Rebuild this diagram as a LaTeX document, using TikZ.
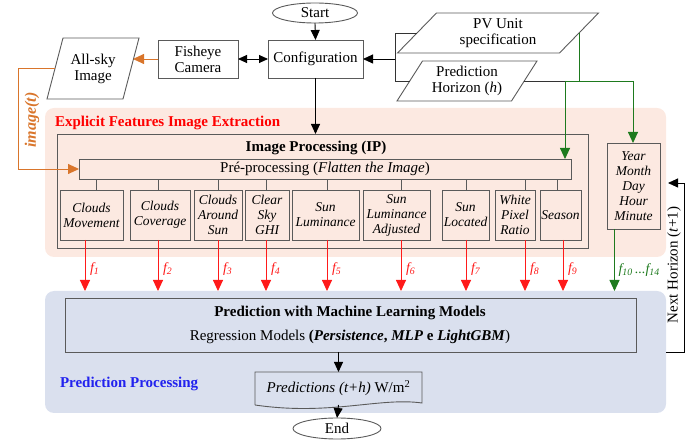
\documentclass[tikz,border=0pt]{standalone}
\usepackage{fontspec}
\setmainfont{Liberation Serif}
\usetikzlibrary{arrows.meta,shapes.geometric,calc}
\definecolor{pinkbg}{HTML}{FCE9E1}
\definecolor{bluebg}{HTML}{DAE0EE}
\definecolor{orng}{HTML}{D9752B}
\definecolor{grn}{HTML}{1E7A1E}
\definecolor{boxline}{HTML}{5A5A5A}
\definecolor{redf}{HTML}{FF1A1A}
\definecolor{bluet}{HTML}{2222EE}
\begin{document}
\begin{tikzpicture}[x=1pt,y=-1pt,
  every node/.style={inner sep=0pt,outer sep=0pt,align=center},
  bx/.style={draw=boxline,line width=0.9pt},
  main/.style={font=\fontsize{15}{16}\selectfont},
  bmain/.style={font=\fontsize{15}{16}\selectfont\bfseries},
  featf/.style={font=\fontsize{13.5}{15}\selectfont\itshape},
  feat/.style={bx,featf,minimum height=50,minimum width=#1},
  conn/.style={draw=boxline,line width=0.9pt},
  arr/.style={draw=black,line width=0.9pt,-{Triangle[length=10pt,width=9pt]}},
  redarr/.style={draw=redf,line width=0.9pt,-{Triangle[length=11pt,width=10pt]}},
  grnarr/.style={draw=grn,line width=0.9pt,-{Triangle[length=11pt,width=10pt]}},
  orngarr/.style={draw=orng,line width=0.9pt,-{Triangle[length=11pt,width=10pt]}},
  flab/.style={font=\fontsize{14}{16}\selectfont\itshape,anchor=west},
]
\useasboundingbox (0,0) rectangle (699,443);

% regions
\node[fill=pinkbg,rounded corners=9pt,minimum width=621,minimum height=149] (efie) at (355.5,182.5) {};
\node[fill=bluebg,rounded corners=9pt,minimum width=621,minimum height=122] (pp) at (355.5,352) {};
\node[bmain,text=red,anchor=west] (efietitle) at (55,123) {Explicit Features Image Extraction};
\node[bmain,text=bluet,anchor=west] (pptitle) at (60,384) {Prediction Processing};

% top
\node[ellipse,bx,minimum width=85,minimum height=20,main] (start) at (315,13) {Start};
\node[bx,minimum width=95,minimum height=38,main] (config) at (315.5,59) {Configuration};
\node[bx,minimum width=80,minimum height=38,main] (fish) at (198,59) {Fisheye\\Camera};
\node[minimum width=76,minimum height=61,main] (sky) at (93,68.5) {All-sky\\Image};
\draw[bx] ([xshift=-8]sky.south west) -- ([xshift=8]sky.north west) -- ([xshift=8]sky.north east) -- ([xshift=-8]sky.south east) -- cycle;
\node[minimum width=162,minimum height=40,main] (pv) at (498,33) {PV Unit\\specification};
\draw[bx] ([xshift=-19.5]pv.south west) -- ([xshift=19.5]pv.north west) -- ([xshift=19.5]pv.north east) -- ([xshift=-19.5]pv.south east) -- cycle;
\node[minimum width=114.5,minimum height=40,main] (ph) at (467,81) {Prediction\\Horizon (\textit{h})};
\draw[bx] ([xshift=-12.75]ph.south west) -- ([xshift=12.75]ph.north west) -- ([xshift=12.75]ph.north east) -- ([xshift=-12.75]ph.south east) -- cycle;

% image processing
\node[bx,minimum width=531,minimum height=114] (ip) at (322.5,191) {};
\node[bmain] (iptitle) at (316,148) {Image Processing (IP)};
\node[bx,minimum width=492,minimum height=20,main] (pre) at (325,169) {Pré-processing (\textit{Flatten the Image})};

\node[feat=63] (cm) at (91.5,215) {Clouds\\Movement};
\node[feat=60] (cc) at (160,215) {Clouds\\Coverage};
\node[feat=48] (cas) at (218,215) {Clouds\\Around\\Sun};
\node[feat=44] (csg) at (267,215) {Clear\\Sky\\GHI};
\node[feat=67] (sl) at (325.5,215) {Sun\\Luminance};
\node[feat=67] (sla) at (396.5,215) {Sun\\Luminance\\Adjusted};
\node[feat=47] (sloc) at (465.5,215) {Sun\\Located};
\node[feat=40] (wpr) at (515,215) {White\\Pixel\\Ratio};
\node[feat=41] (sea) at (560.5,215) {Season};

\node[bx,featf,minimum width=53,minimum height=86] (year) at (633.5,186) {Year\\Month\\Day\\Hour\\Minute};

% connectors pre -> features
\foreach \n/\s in {cm/4.5,cc/-2,cas/0,csg/-1,sl/1.5,sla/4.5,sloc/0.5,wpr/10,sea/-3.5}{
  \draw[conn] ([xshift=\s]\n.north) -- ([xshift=\s]\n.north |- pre.south);
}

% red arrows
\draw[redarr] ([xshift=-6.5]cm.south) -- ([xshift=-6.5]cm.south |- pp.north) node[flab,text=redf,pos=0.57,xshift=5] (l1) {f\textsubscript{\textit{1}}};
\draw[redarr] ([xshift=-2]cc.south) -- ([xshift=-2]cc.south |- pp.north) node[flab,text=redf,pos=0.57,xshift=5] (l2) {f\textsubscript{\textit{2}}};
\draw[redarr] (cas.south) -- (cas.south |- pp.north) node[flab,text=redf,pos=0.57,xshift=5] (l3) {f\textsubscript{\textit{3}}};
\draw[redarr] ([xshift=-1]csg.south) -- ([xshift=-1]csg.south |- pp.north) node[flab,text=redf,pos=0.57,xshift=5] (l4) {f\textsubscript{\textit{4}}};
\draw[redarr] ([xshift=1.5]sl.south) -- ([xshift=1.5]sl.south |- pp.north) node[flab,text=redf,pos=0.57,xshift=5] (l5) {f\textsubscript{\textit{5}}};
\draw[redarr] ([xshift=4.5]sla.south) -- ([xshift=4.5]sla.south |- pp.north) node[flab,text=redf,pos=0.57,xshift=5] (l6) {f\textsubscript{\textit{6}}};
\draw[redarr] ([xshift=0.5]sloc.south) -- ([xshift=0.5]sloc.south |- pp.north) node[flab,text=redf,pos=0.57,xshift=5] (l7) {f\textsubscript{\textit{7}}};
\draw[redarr] ([xshift=10]wpr.south) -- ([xshift=10]wpr.south |- pp.north) node[flab,text=redf,pos=0.57,xshift=5] (l8) {f\textsubscript{\textit{8}}};
\draw[redarr] ([xshift=2.5]sea.south) -- ([xshift=2.5]sea.south |- pp.north) node[flab,text=redf,pos=0.57,xshift=5] (l9) {f\textsubscript{\textit{9}}};
\draw[grnarr] ([xshift=-19]year.south) -- ([xshift=-19]year.south |- pp.north) node[flab,text=grn,pos=0.66,xshift=4] (l10) {f\textsubscript{\textit{10}}\,...f\textsubscript{\textit{14}}};

% prediction
\node[bx,minimum width=571,minimum height=54] (ml) at (350.5,325) {};
\node[bmain] (mlt) at (350,313) {Prediction with Machine Learning Models};
\node[main] (mlr) at (350,337) {Regression Models \textbf{(\textit{Persistence}, \textit{MLP} e \textit{LightGBM}})};
\node[minimum width=167,minimum height=33,main] (pred) at (338.5,388.5) {\textit{Predictions (t+h)} W/m\textsuperscript{2}};
\draw[bx] (255,405) -- (255,372) -- (422,372) -- (422,403) .. controls (380,397) and (330,416) .. (255,405);
\node[ellipse,bx,minimum width=88,minimum height=21,main] (end) at (337,428.5) {End};

% arrows top
\draw[arr] (start.south) -- (config.north);
\draw[arr] (config.south) -- (config.south |- ip.north);
\draw[line width=0.9pt,{Triangle[length=9pt,width=8pt]}-{Triangle[length=9pt,width=8pt]}] (fish.east) -- (config.west);
\draw[orngarr] (fish.west) -- ([xshift=2]sky.east |- fish.west);
\coordinate (ox) at (18,0);
\draw[orngarr] (sky.west) -| (ox |- pre.west) -- (pre.west);
\node[rotate=90,font=\fontsize{16}{18}\selectfont\bfseries\itshape,text=orng] (imt) at (32,120) {image(t)};

% PV / PH connections
\coordinate (jx) at (395,59);
\draw[conn,draw=black!80] (pv.west) -| (jx |- ph.west) -- (ph.west);
\draw[arr] (jx) -- (config.east);
\coordinate (ga) at (565,81);
\coordinate (gb) at (633,81);
\draw[conn,draw=black!80] (ph.east) -- (ga);
\draw[draw=grn,line width=0.9pt] (ga) -- (gb);
\draw[draw=grn,line width=0.9pt] (pv.east) -- (pv.east |- ga);
\draw[grnarr] (ga) -- (ga |- pre.north);
\draw[grnarr] (gb) -- (gb |- year.north);

% prediction arrows
\draw[arr] (pred.north |- ml.south) -- (pred.north);
\draw[arr] (pred.south) -- (end.north);

% next horizon
\coordinate (nhc) at (684,183);
\draw[arr] (pp.east) -| (nhc) -- ([xshift=2]efie.east |- nhc);
\node[rotate=90,main] (nhl) at (674,265) {Next Horizon (\textit{t}+1)};
\end{tikzpicture}
\end{document}
